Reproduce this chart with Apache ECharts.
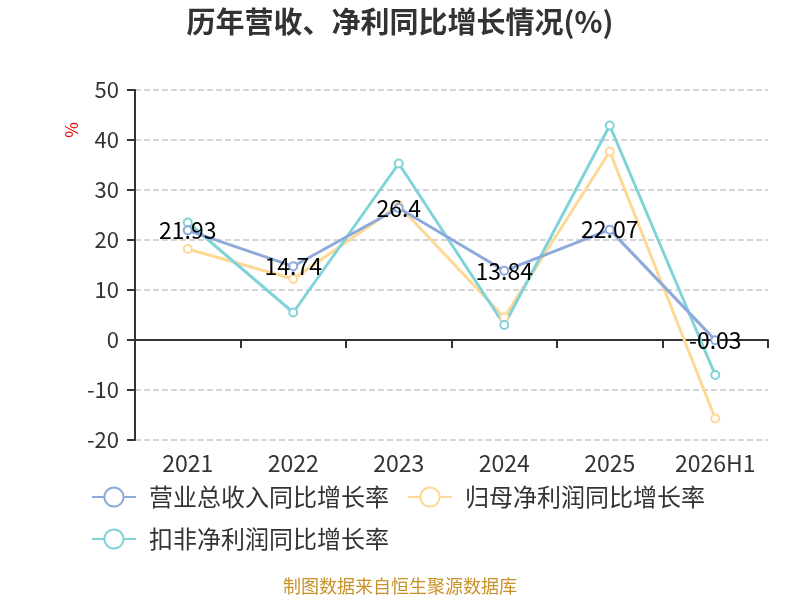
<!DOCTYPE html>
<html><head><meta charset="utf-8">
<script src="https://cdn.jsdelivr.net/npm/echarts@6/dist/echarts.min.js"></script>
<style>html,body{margin:0;padding:0;background:#fff}#c{width:800px;height:600px}</style>
</head><body><div id="c"></div>
<script>
const categories = ['2021','2022','2023','2024','2025','2026H1'];
const revenueGrowth = [21.93, 14.74, 26.4, 13.84, 22.07, -0.03];
const netProfitGrowth = [18.2, 12.2, 26.9, 4.5, 37.7, -15.7];
const deductedProfitGrowth = [23.5, 5.5, 35.3, 3.0, 42.9, -7.0];
const seriesNames = ['营业总收入同比增长率','归母净利润同比增长率','扣非净利润同比增长率'];
const colors = ['#8eaadb','#fed895','#80d3d8'];

const chart = echarts.init(document.getElementById('c'));
const font = '"Noto Sans CJK SC", "Noto Sans", sans-serif';
function lineSeries(name, data, color, withLabel) {
  return {
    name, type: 'line', data, xAxisIndex: 0,
    symbol: 'emptyCircle', symbolSize: 8,
    lineStyle: {width: 3, color}, itemStyle: {color, borderWidth: 2},
    label: withLabel ? {show: true, position: 'inside', color: '#000', fontSize: 23, fontFamily: font} : {show: false},
    z: withLabel ? 5 : 3
  };
}
chart.setOption({
  animation: false,
  title: {text: '历年营收、净利同比增长情况(%)', left: 'center', top: 2,
    textStyle: {fontSize: 29, fontWeight: 'bold', color: '#333', fontFamily: font}},
  grid: {left: 135, right: 32, top: 90, bottom: 160},
  legend: {data: seriesNames, left: 86, top: 480, width: 680, itemWidth: 44, itemHeight: 24, itemGap: 18,
    textStyle: {fontSize: 24, color: '#333', fontFamily: font, padding: [0, 5, 0, 8]}},
  xAxis: [{
    type: 'category', data: categories, boundaryGap: true,
    axisLine: {onZero: true, lineStyle: {color: '#333', width: 2}},
    axisTick: {show: true, length: 8, lineStyle: {color: '#333', width: 2}},
    axisLabel: {show: false}
  }, {
    type: 'category', data: categories, position: 'bottom', boundaryGap: true,
    axisLine: {show: false, onZero: false}, axisTick: {show: false},
    axisLabel: {color: '#333', fontSize: 23, margin: 12, fontFamily: font}
  }],
  yAxis: {
    type: 'value', min: -20, max: 50, interval: 10,
    axisLine: {show: true, lineStyle: {color: '#333', width: 2}},
    axisTick: {show: true, length: 8, lineStyle: {color: '#333', width: 2}},
    axisLabel: {color: '#333', fontSize: 22, margin: 16, fontFamily: font},
    splitLine: {lineStyle: {type: 'dashed', color: '#c8c8c8', width: 1.5}}
  },
  graphic: [{
    type: 'text', left: 63, top: 122, rotation: Math.PI / 2,
    style: {text: '%', fill: '#e00', fontSize: 17, fontFamily: font}
  }, {
    type: 'text', left: 'center', top: 577,
    style: {text: '制图数据来自恒生聚源数据库', fill: '#c8922a', fontSize: 18, fontFamily: font}
  }],
  series: [
    lineSeries(seriesNames[0], revenueGrowth, colors[0], true),
    lineSeries(seriesNames[1], netProfitGrowth, colors[1], false),
    lineSeries(seriesNames[2], deductedProfitGrowth, colors[2], false)
  ]
});
</script></body></html>
